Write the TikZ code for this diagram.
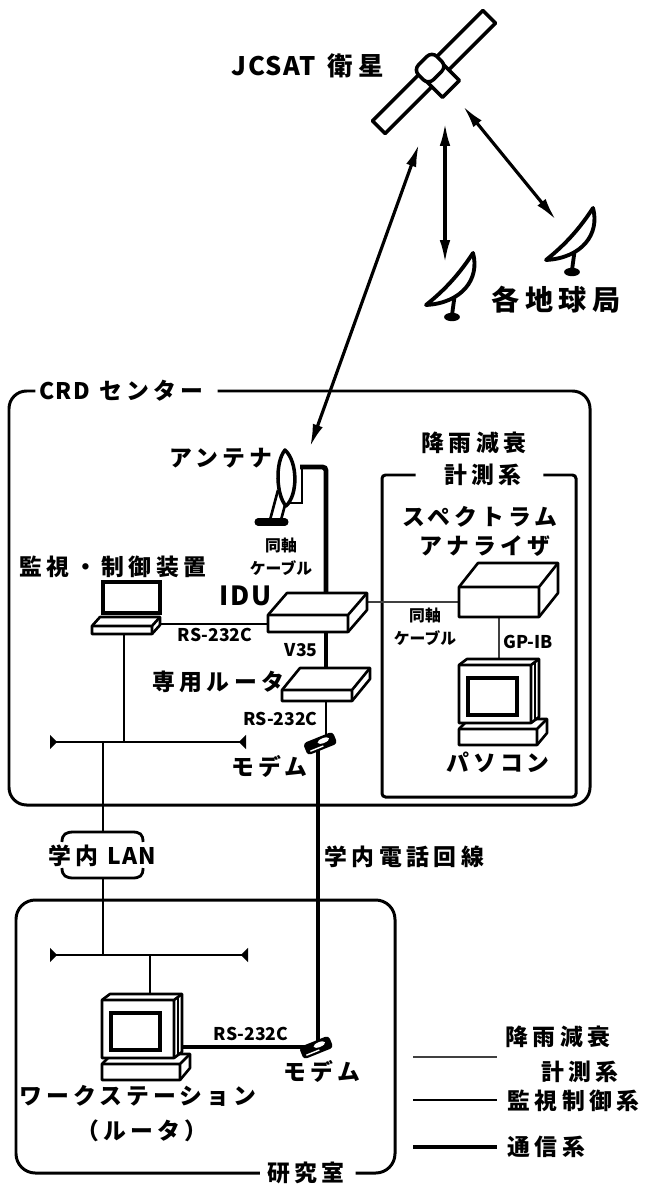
\documentclass[tikz,border=0pt]{standalone}
\usepackage{fontspec}
\setmainfont{Noto Sans CJK JP}
\usetikzlibrary{arrows.meta,positioning}

\tikzset{
  icon/.style={line width=1.5pt, line join=round},
  comline/.style={line width=2.8pt},
  ctlline/.style={line width=1.6pt},
  rainline/.style={line width=1.1pt, black!75},
  frame/.style={line width=1.7pt},
  bus/.style={line width=1.6pt, {Triangle[reversed,length=4pt,width=8pt]}-{Triangle[reversed,length=4pt,width=8pt]}},
  link/.style={line width=1.8pt, {Latex[length=13pt,width=6pt]}-{Latex[length=13pt,width=6pt]}},
  lbl/.style={font=\bfseries\fontsize{13}{15}\selectfont\addfontfeature{LetterSpace=18}, inner sep=0pt},
  lblb/.style={font=\bfseries\fontsize{13}{15}\selectfont\addfontfeature{LetterSpace=20}, inner sep=0pt},
  tinylbl/.style={font=\bfseries\fontsize{9}{10}\selectfont, inner sep=0pt},
  port/.style={font=\bfseries\fontsize{10}{12}\selectfont, inner sep=0pt},
}

% latin letters inside the spaced labels
\newcommand{\lat}[1]{{\addfontfeature{LetterSpace=6}#1}}

% flat 3D box: x, y (front top-left), width, height, depth dx, dy
\newcommand{\slab}[6]{%
  \draw[icon, fill=white] (#1,#2) -- (#1+#5,#2+#6) -- (#1+#3+#5,#2+#6) -- (#1+#3+#5,#2+#4+#6)
    -- (#1+#3,#2+#4) -- (#1,#2+#4) -- cycle;
  \draw[icon] (#1,#2) -- (#1+#3,#2) -- (#1+#3,#2+#4) (#1+#3,#2) -- (#1+#3+#5,#2+#6);
}

% desktop computer, x y = top-left of monitor front
\newcommand{\pcicon}[2]{%
  \draw[icon, fill=white] (#1,#2+64) -- (#1+10,#2+54) -- (#1+88,#2+54) -- (#1+88,#2+68)
    -- (#1+78,#2+80) -- (#1,#2+80) -- cycle;
  \draw[icon] (#1,#2+64) -- (#1+78,#2+64) -- (#1+88,#2+54) (#1+78,#2+64) -- (#1+78,#2+80);
  \draw[icon, fill=white] (#1,#2) -- (#1+8,#2-6) -- (#1+80,#2-6) -- (#1+80,#2+52)
    -- (#1+72,#2+58) -- (#1,#2+58) -- cycle;
  \draw[icon] (#1,#2) -- (#1+72,#2) -- (#1+72,#2+58) (#1+72,#2) -- (#1+80,#2-6);
  \draw[line width=0.8pt] (#1+76,#2-2) -- (#1+76,#2+54);
  \draw[line width=2pt, fill=white] (#1+9,#2+13) rectangle (#1+58,#2+50);
}

% notebook, x y = top-left of screen
\newcommand{\laptopicon}[2]{%
  \draw[line width=2.4pt, fill=white] (#1,#2) rectangle (#1+57,#2+31);
  \draw[icon, fill=white] (#1-3,#2+35) -- (#1+57,#2+35) -- (#1+57,#2+43) -- (#1+49,#2+52)
    -- (#1-11,#2+52) -- (#1-11,#2+44) -- cycle;
  \draw[icon] (#1-11,#2+44) -- (#1+49,#2+44) -- (#1+57,#2+35) (#1+49,#2+44) -- (#1+49,#2+52);
}

% dish on a post, x y = foot
\newcommand{\dishicon}[2]{%
  \begin{scope}[shift={(#1,#2)}]
    \draw[line width=2.2pt] (3,-24) -- (0,-2);
    \fill (0,0) ellipse [x radius=4.5pt, y radius=2.4pt];
    \draw[icon, line width=2.2pt, fill=white] (21,-64) .. controls (28,-38) and (10,-14) .. (-26,-12)
      .. controls (-6,-28) and (8,-44) .. cycle;
  \end{scope}
}

% small modem
\newcommand{\modemicon}[2]{%
  \begin{scope}[shift={(#1,#2)}, rotate=22]
    \fill[rounded corners=2pt] (-16,-6) rectangle (16,7);
    \fill[white] (4,-1) ellipse [x radius=3.5pt, y radius=1.4pt];
    \draw[white, line width=0.8pt] (-12,4) -- (2,4);
  \end{scope}
}

\begin{document}
\begin{tikzpicture}[x=0.02cm, y=-0.02cm]
  \fill[white] (0,0) rectangle (647,1192);
  \useasboundingbox (0,0) rectangle (647,1192);

  % points where the lines meet
  \coordinate (sat) at (434,72);
  \coordinate (satA) at (419,144);
  \coordinate (ant) at (310,447);
  \coordinate (satB) at (445,123);
  \coordinate (gs1) at (445,263);
  \coordinate (satC) at (463,106);
  \coordinate (gs2) at (556,220);
  \coordinate (feed) at (300,467);
  \coordinate (idu) at (326,612);
  \coordinate (laptop) at (124,624);
  \coordinate (router) at (326,688);
  \coordinate (modemA) at (318,743);
  \coordinate (modemB) at (318,1047);
  \coordinate (analyzer) at (499,602);
  \coordinate (pc) at (499,690);
  \coordinate (ws) at (150,1030);
  \coordinate (busAL) at (50,742);
  \coordinate (busAR) at (246,742);
  \coordinate (busBL) at (50,955);
  \coordinate (busBR) at (248,955);
  \coordinate (lanup) at (103,832);
  \coordinate (landown) at (103,878);

  % labels
  \node[lbl, font=\bfseries\fontsize{14.5}{17}\selectfont\addfontfeature{LetterSpace=22}] (jcsat) at (308,66) {\lat{JCSAT} 衛星};
  \node[lblb, font=\bfseries\fontsize{16}{18}\selectfont\addfontfeature{LetterSpace=20}] (stations) at (556,300) {各地球局};
  \node[lbl, anchor=west] (crd) at (39,391) {\lat{CRD} センター};
  \node[lbl, anchor=east] (antlbl) at (273,458) {アンテナ};
  \node[lblb] (rain1) at (474,443) {降雨減衰};
  \node[lblb] (rain2) at (483,475) {計測系};
  \node[lbl] (spec1) at (480,517) {スペクトラム};
  \node[lbl] (spec2) at (485,546) {アナライザ};
  \node[lblb] (ctrl) at (113,567) {監視・制御装置};
  \node[tinylbl] (coaxA) at (281,545) {同軸};
  \node[tinylbl, below=4pt of coaxA] (coaxA2) {ケーブル};
  \node[lbl, font=\bfseries\fontsize{15}{17}\selectfont\addfontfeature{LetterSpace=6}, anchor=east] (idulbl) at (272,596) {IDU};
  \node[port] (rsA) at (215,635) {RS-232C};
  \node[port, anchor=east] (v35) at (318,650) {V35};
  \node[lblb, anchor=east] (routerlbl) at (285,682) {専用ルータ};
  \node[port, anchor=east] (rsB) at (318,719) {RS-232C};
  \node[lbl, anchor=east] (modemlblA) at (308,766) {モデム};
  \node[tinylbl] (coaxB) at (425,615) {同軸};
  \node[tinylbl, below=4pt of coaxB] (coaxB2) {ケーブル};
  \node[port, anchor=west] (gpib) at (503,642) {GP-IB};
  \node[lbl] (pclbl) at (498,762) {パソコン};
  \node[lbl] (lan) at (102,856) {学内 \lat{LAN}};
  \node[lblb, anchor=west] (phone) at (324,857) {学内電話回線};
  \node[port] (rsC) at (251,1034) {RS-232C};
  \node[lbl] (modemlblB) at (322,1071) {モデム};
  \node[lbl] (wslbl) at (138,1096) {ワークステーション};
  \node[lbl] (wslbl2) at (142,1131) {（ルータ）};
  \node[lblb] (lab) at (306,1173) {研究室};

  % frames
  \draw[frame, rounded corners=10pt] ([xshift=-2pt]crd.west) -| (9,805) -| (590,391) -- ([xshift=8pt]crd.east);
  \draw[frame, rounded corners=2pt] ([xshift=-16pt]rain2.west) -| (382,797) -| (576,475) -- ([xshift=12pt]rain2.east);
  \draw[frame, rounded corners=11pt] ([xshift=-4pt]lab.west) -| (16,900) -| (395,1173) -- ([xshift=6pt]lab.east);

  % lines
  \draw[link] (satA) -- (ant);
  \draw[link] (satB) -- (gs1);
  \draw[link] (satC) -- (gs2);
  \draw[comline, rounded corners=2pt] (feed) -| (idu);
  \draw[ctlline] (laptop) -- (laptop -| idu);
  \draw[rainline] (analyzer) -- (analyzer -| idu);
  \draw[rainline] (analyzer) -- (pc);
  \draw[comline] (idu) -- (router);
  \draw[ctlline] (router) -- (router |- modemA);
  \draw[comline] (modemA) -- (modemB);
  \draw[comline] (modemB) -- (modemB -| ws);
  \draw[ctlline] (laptop) -- (laptop |- busAL);
  \draw[bus] (busAL) -- (busAR);
  \draw[ctlline] (lanup |- busAL) -- (lanup);
  \draw[ctlline] (landown) -- (landown |- busBL);
  \draw[bus] (busBL) -- (busBR);
  \draw[ctlline] (ws) -- (ws |- busBL);

  % campus LAN cloud
  \draw[ctlline] (62,842) .. controls (62,834) and (66,832) .. (74,832) -- (132,832)
    .. controls (140,832) and (143,834) .. (143,842);
  \draw[ctlline] (62,868) .. controls (62,876) and (66,878) .. (74,878) -- (132,878)
    .. controls (140,878) and (143,876) .. (143,868);

  % satellite
  \begin{scope}[shift={(sat)}, rotate=45]
    \draw[icon, line width=2pt, fill=white] (-78,-9) rectangle (78,9);
    \draw[icon, line width=2pt, fill=white] (-12,2) rectangle (12,24);
    \draw[icon, line width=2pt, fill=white, rounded corners=4pt] (-13,-16) rectangle (13,5);
  \end{scope}
  \dishicon{452}{317}
  \dishicon{572}{272}

  % antenna
  \draw[line width=1pt] (302,467) -- (302,503) -- (284,503);
  \draw[icon] (278,490) -- (270,520);
  \draw[icon] (285,505) -- (281,520);
  \draw[icon, line width=2pt, fill=white] (285,450) .. controls (298,462) and (298,495) .. (286,506)
    .. controls (276,495) and (275,462) .. cycle;
  \draw[line width=4pt, line cap=round] (258,522) -- (285,522);

  % equipment
  \laptopicon{103}{582}
  \slab{268}{615}{80}{17}{19}{-22}
  \slab{282}{690}{70}{11}{18}{-22}
  \slab{459}{587}{80}{30}{19}{-24}
  \pcicon{459}{665}
  \pcicon{102}{1000}
  \modemicon{320}{743}
  \modemicon{316}{1047}

  % key
  \coordinate (k1a) at (413,1057);
  \coordinate (k1b) at (497,1057);
  \coordinate (k2a) at (413,1100);
  \coordinate (k2b) at (497,1100);
  \coordinate (k3a) at (413,1147);
  \coordinate (k3b) at (497,1147);
  \draw[rainline] (k1a) -- (k1b);
  \draw[ctlline] (k2a) -- (k2b);
  \draw[comline] (k3a) -- (k3b);
  \node[lblb] (key1) at (558,1037) {降雨減衰};
  \node[lblb] (key1b) at (580,1072) {計測系};
  \node[lblb, anchor=west] (key2) at (507,1101) {監視制御系};
  \node[lblb, anchor=west] (key3) at (507,1147) {通信系};
\end{tikzpicture}
\end{document}
